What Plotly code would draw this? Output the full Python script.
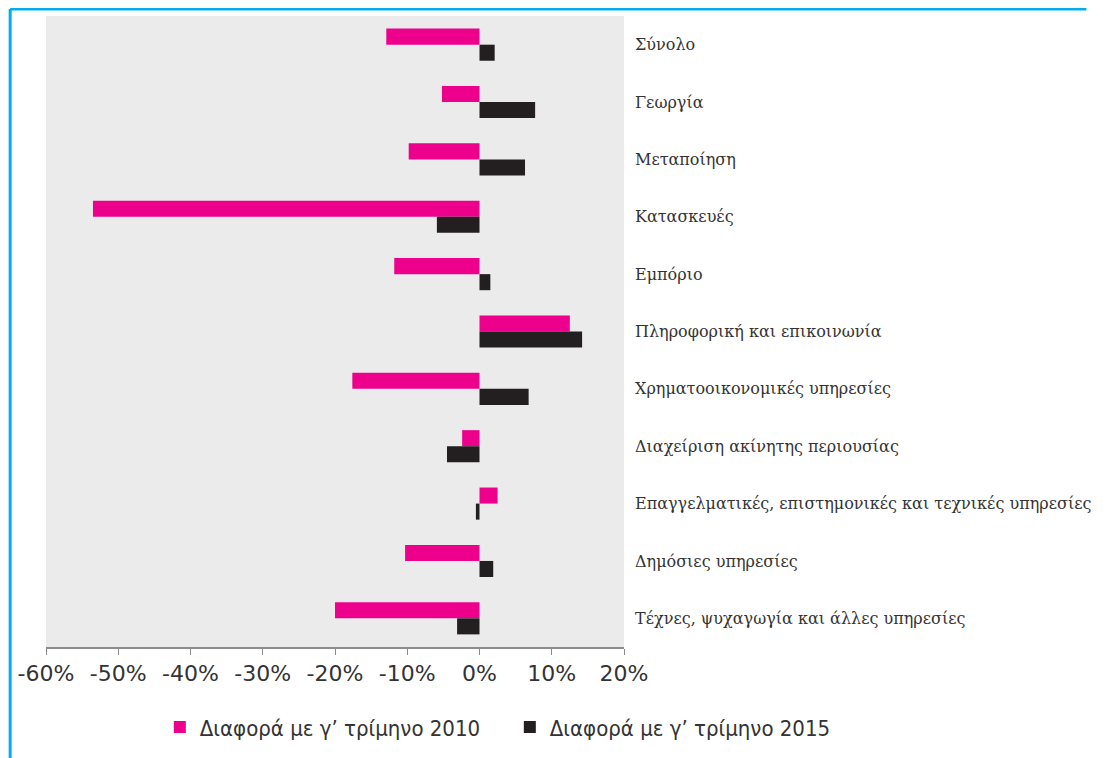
import plotly.graph_objects as go

# sectors (top to bottom)
sectors = [
    "Σύνολο",
    "Γεωργία",
    "Μεταποίηση",
    "Κατασκευές",
    "Εμπόριο",
    "Πληροφορική και επικοινωνία",
    "Χρηματοοικονομικές υπηρεσίες",
    "Διαχείριση ακίνητης περιουσίας",
    "Επαγγελματικές, επιστημονικές και τεχνικές υπηρεσίες",
    "Δημόσιες υπηρεσίες",
    "Τέχνες, ψυχαγωγία και άλλες υπηρεσίες",
]

# change vs Q3 2010 and Q3 2015 (fractions)
diff_2010 = [-0.129, -0.052, -0.098, -0.535, -0.118, 0.125, -0.176, -0.024, 0.025, -0.103, -0.200]
diff_2015 = [0.021, 0.077, 0.063, -0.059, 0.015, 0.142, 0.068, -0.045, -0.005, 0.019, -0.031]

x_ticks = [-0.6, -0.5, -0.4, -0.3, -0.2, -0.1, 0.0, 0.1, 0.2]
x_labels = ["-60%", "-50%", "-40%", "-30%", "-20%", "-10%", "0%", "10%", "20%"]

pos = list(range(len(sectors)))
bounds = [p - 0.5 for p in pos] + [len(sectors) - 0.5]

fig = go.Figure()
fig.add_trace(go.Bar(
    y=pos, x=diff_2010, orientation="h",
    name="Διαφορά με γ’ τρίμηνο 2010",
    marker=dict(color="#EC008C", line=dict(width=0)),
))
fig.add_trace(go.Bar(
    y=pos, x=diff_2015, orientation="h",
    name="Διαφορά με γ’ τρίμηνο 2015",
    marker=dict(color="#231F20", line=dict(width=0)),
))

yrange = [len(sectors) - 0.5, -0.5]

# page body adds 8px, so the figure is 8px smaller and margins shifted
fig.update_layout(
    width=1107, height=750,
    margin=dict(l=38, r=491, t=8, b=111),
    paper_bgcolor="white",
    plot_bgcolor="#EBEBEB",
    barmode="group",
    bargap=0.44,
    bargroupgap=0,
    showlegend=True,
    legend=dict(
        orientation="h",
        x=1.408, xanchor="right",
        y=-0.127, yanchor="middle",
        font=dict(family="DejaVu Sans Condensed, DejaVu Sans", size=22, color="#333333"),
        itemwidth=30,
        entrywidth=305,
        tracegroupgap=0,
    ),
    xaxis=dict(
        range=[-0.6, 0.2],
        tickvals=x_ticks,
        ticktext=x_labels,
        showgrid=False,
        zeroline=False,
        showline=True, linecolor="#8C8C8C", linewidth=1.5,
        ticks="outside", ticklen=6, tickcolor="#8C8C8C",
        ticklabelstandoff=0,
        tickfont=dict(family="DejaVu Sans", size=22, color="#333333"),
        fixedrange=True,
    ),
    yaxis=dict(
        range=yrange,
        tickvals=pos, ticktext=sectors,
        side="right",
        showgrid=False, zeroline=False, showline=False,
        ticks="",
        ticklabelstandoff=10,
        tickfont=dict(family="DejaVu Serif", size=16, color="#333333"),
    ),
    yaxis2=dict(
        range=yrange,
        overlaying="y",
        anchor="free",
        position=0.75,
        tickvals=bounds,
        showticklabels=False,
        showgrid=False, zeroline=False,
        showline=True, linecolor="#8C8C8C", linewidth=1.5,
        ticks="outside", ticklen=5, tickcolor="#8C8C8C",
    ),
)

# blue frame edges (top and left)
fig.add_shape(type="line", xref="paper", yref="paper",
              x0=-0.062, x1=1.8, y0=1.0 + 7 / 631, y1=1.0 + 7 / 631,
              line=dict(color="#00AEEF", width=3))
fig.add_shape(type="line", xref="paper", yref="paper",
              x0=-0.062, x1=-0.062, y0=-0.2, y1=1.0 + 7 / 631,
              line=dict(color="#00AEEF", width=3))

fig.write_html("out.html")
